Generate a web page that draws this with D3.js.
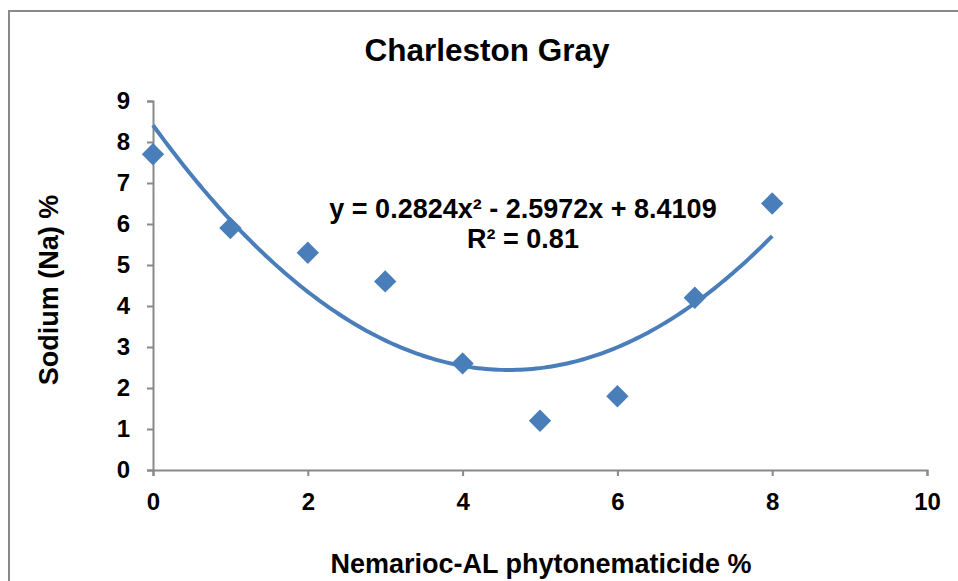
<!DOCTYPE html>
<html>
<head>
<meta charset="utf-8">
<script src="https://cdn.jsdelivr.net/npm/d3@7"></script>
<style>
  body { margin: 0; background: #fff; }
  text { font-family: "Liberation Sans", Arial, sans-serif; font-weight: bold; fill: #000; }
</style>
</head>
<body>
<svg id="chart"></svg>
<script>
// nematicide concentration (%) and sodium content (%)
var doses = [0, 1, 2, 3, 4, 5, 6, 7, 8];
var sodium = [7.7, 5.9, 5.3, 4.6, 2.6, 1.2, 1.8, 4.2, 6.5];
// quadratic trendline y = a x^2 + b x + c
var trendCoef = [0.2824, -2.5972, 8.4109];
var rSquared = 0.81;
var xTicks = [0, 2, 4, 6, 8, 10];
var yTicks = [0, 1, 2, 3, 4, 5, 6, 7, 8, 9];

var width = 958, height = 581;
var svg = d3.select('#chart').attr('width', width).attr('height', height);

// outer chart frame
svg.append('rect').attr('x', 9).attr('y', 11).attr('width', 960).attr('height', 600)
  .attr('fill', 'none').attr('stroke', '#898989').attr('stroke-width', 2);

var x = d3.scaleLinear().domain([0, 10]).range([153, 927]);
var y = d3.scaleLinear().domain([0, 9]).range([470, 101]);

var xAxis = svg.append('g').attr('transform', 'translate(0,470)')
  .call(d3.axisBottom(x).tickValues(xTicks).tickSize(6).tickSizeOuter(6).tickPadding(17));
var yAxis = svg.append('g').attr('transform', 'translate(153,0)')
  .call(d3.axisLeft(y).tickValues(yTicks).tickSize(6).tickSizeOuter(6).tickPadding(17));

[xAxis, yAxis].forEach(function(ax) {
  ax.selectAll('path, line').attr('stroke', '#898989').attr('stroke-width', 2);
  ax.selectAll('text').attr('font-size', 24).attr('font-family', '"Liberation Sans", Arial, sans-serif')
    .attr('font-weight', 'bold').attr('fill', '#000');
});

// trendline
var trendX = d3.range(0, 8.001, 0.05);
var line = d3.line()
  .x(function(d) { return x(d); })
  .y(function(d) { return y(trendCoef[0] * d * d + trendCoef[1] * d + trendCoef[2]); })
  .curve(d3.curveMonotoneX);
svg.append('path').datum(trendX).attr('d', line)
  .attr('fill', 'none').attr('stroke', '#4a7ebb').attr('stroke-width', 4);

// diamond markers
var diamond = d3.symbol().type(d3.symbolSquare).size(250);
svg.selectAll('.pt').data(doses).enter().append('path')
  .attr('class', 'pt')
  .attr('d', diamond)
  .attr('transform', function(d, i) {
    return 'translate(' + x(d) + ',' + y(sodium[i]) + ') rotate(45)';
  })
  .attr('fill', '#4a7ebb');

svg.append('text').attr('x', 487).attr('y', 61).attr('text-anchor', 'middle')
  .attr('font-size', 31.5).text('Charleston Gray');

svg.append('text').attr('x', 523).attr('y', 218).attr('text-anchor', 'middle')
  .attr('font-size', 27)
  .text('y = ' + trendCoef[0] + 'x² - ' + Math.abs(trendCoef[1]) + 'x + ' + trendCoef[2]);
svg.append('text').attr('x', 523).attr('y', 248).attr('text-anchor', 'middle')
  .attr('font-size', 27).text('R² = ' + rSquared);

svg.append('text').attr('x', 541).attr('y', 573).attr('text-anchor', 'middle')
  .attr('font-size', 27).text('Nemarioc-AL phytonematicide %');

svg.append('text').attr('transform', 'translate(58,290) rotate(-90)')
  .attr('text-anchor', 'middle').attr('font-size', 27).text('Sodium (Na) %');
</script>
</body>
</html>
